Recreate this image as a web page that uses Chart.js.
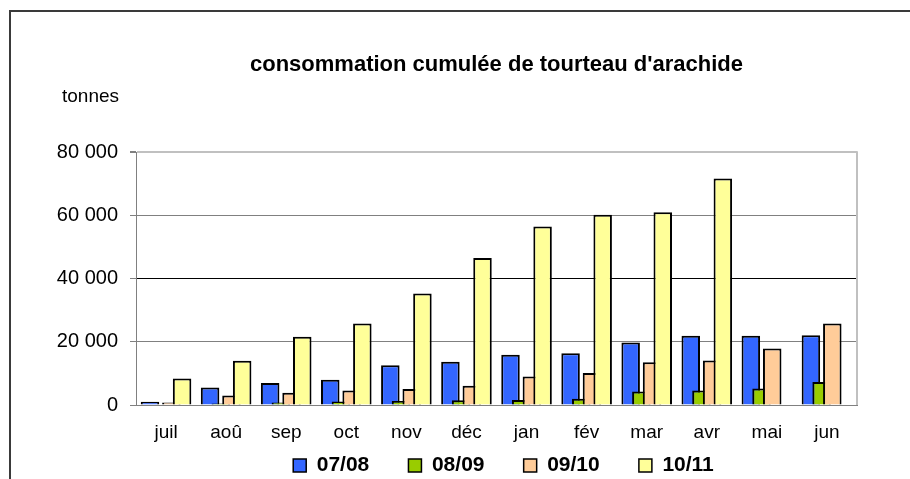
<!DOCTYPE html>
<html>
<head>
<meta charset="utf-8">
<script src="https://cdn.jsdelivr.net/npm/chart.js@4/dist/chart.umd.min.js"></script>
<style>
  html, body { margin: 0; padding: 0; background: #fff; }
  #wrap { position: relative; width: 910px; height: 479px; }
  #frame { position: absolute; left: 9px; top: 10px; right: 0; bottom: 0; border-top: 2px solid #3a3a3a; border-left: 2px solid #3a3a3a; }
  canvas { position: absolute; left: 0; top: 0; }
</style>
</head>
<body>
<div id="wrap">
  <div id="frame"></div>
  <canvas id="chart" width="910" height="479"></canvas>
</div>
<script>
// mois de la campagne
const months = ['juil', 'aoû', 'sep', 'oct', 'nov', 'déc', 'jan', 'fév', 'mar', 'avr', 'mai', 'jun'];
// consommation cumulée (tonnes) par campagne
const s0708 = [1000, 5500, 7000, 8000, 12600, 13700, 15900, 16400, 19800, 21900, 21900, 22100];
const s0809 = [null, 500, 800, 1100, 1300, 1500, 1600, 2000, 4300, 4600, 5200, 7300];
const s0910 = [800, 3000, 3900, 4600, 5100, 6100, 9000, 10100, 13500, 14100, 17900, 25800];
const s1011 = [8400, 14000, 21600, 25800, 35300, 46500, 56500, 60200, 61000, 71700, null, null];
const yTicks = [0, 20000, 40000, 60000, 80000];

const fmt = v => String(v).replace(/\B(?=(\d{3})+(?!\d))/g, ' ');

// Excel draws later series over earlier ones when bars overlap
const drawInOrder = {
  id: 'drawInOrder',
  beforeDatasetsDraw(chart) {
    chart.data.datasets.forEach((d, i) => {
      if (chart.isDatasetVisible(i)) chart.getDatasetMeta(i).controller.draw();
    });
    return false;
  }
};
const tweaks = {
  id: 'tweaks',
  afterLayout(chart) {
    // "tonnes" sits a bit right of the tick labels, legend a bit right of centre
    chart.boxes.filter(b => b.options && b.options.text === 'tonnes').forEach(b => { b.left += 8; });
    chart.legend.left += 7;
    chart.legend.right += 7;
  },
  afterDraw(chart) {
    const { ctx, chartArea: a } = chart;
    ctx.save();
    ctx.strokeStyle = '#c0c0c0';
    ctx.lineWidth = 2;
    ctx.beginPath();
    ctx.moveTo(a.right, a.top - 1);
    ctx.lineTo(a.right, a.bottom);
    ctx.stroke();
    ctx.restore();
  }
};

const bar = (label, data, color) => ({
  label, data,
  backgroundColor: color,
  borderColor: '#000',
  borderWidth: 2,
  categoryPercentage: 0.712,
  barPercentage: 1.73
});

Chart.defaults.font.family = '"Liberation Sans", Arial, sans-serif';
Chart.defaults.color = '#000';

new Chart(document.getElementById('chart'), {
  type: 'bar',
  data: {
    labels: months,
    datasets: [
      bar('07/08', s0708, '#3366ff'),
      bar('08/09', s0809, '#99cc00'),
      bar('09/10', s0910, '#ffcc99'),
      bar('10/11', s1011, '#ffff99')
    ]
  },
  options: {
    responsive: false,
    animation: false,
    layout: { padding: { top: 50, left: 54, right: 53, bottom: -7 } },
    plugins: {
      title: {
        display: true,
        text: "consommation cumulée de tourteau d'arachide",
        fullSize: false,
        font: { size: 22, weight: 'bold' },
        color: '#000',
        padding: { top: 2, bottom: 4 }
      },
      subtitle: {
        display: true,
        text: 'tonnes',
        align: 'start',
        font: { size: 19 },
        color: '#000',
        padding: { top: 3, bottom: 44 }
      },
      legend: {
        position: 'bottom',
        fullSize: false,
        labels: {
          boxWidth: 13,
          boxHeight: 13,
          padding: 10,
          font: { size: 21, weight: 'bold' },
          color: '#000',
          // wide gaps between the entries, as in the original
          generateLabels: chart => Chart.defaults.plugins.legend.labels.generateLabels(chart)
            .map((l, i, all) => ({ ...l, lineWidth: 1.5, text: i < all.length - 1 ? l.text + '     ' : l.text }))
        }
      },
      tooltip: { enabled: false }
    },
    scales: {
      x: {
        grid: { display: false, drawTicks: false },
        border: { color: '#808080', width: 1 },
        ticks: { font: { size: 19 }, padding: 16, color: '#000' },
        afterFit: s => { s.height = 40; }
      },
      y: {
        min: 0,
        max: 80000,
        afterBuildTicks: s => { s.ticks = yTicks.map(v => ({ value: v })); },
        afterFit: s => { s.width = 82; },
        grid: {
          color: c => c.tick.value === 80000 ? '#c0c0c0' : (c.tick.value === 40000 ? '#000' : '#808080'),
          lineWidth: c => c.tick.value === 80000 ? 2 : 1,
          tickColor: '#808080',
          tickLength: 6
        },
        border: { color: '#808080', width: 1 },
        ticks: { font: { size: 20 }, padding: 12, color: '#000', callback: v => fmt(v) }
      }
    }
  },
  plugins: [drawInOrder, tweaks]
});
</script>
</body>
</html>
